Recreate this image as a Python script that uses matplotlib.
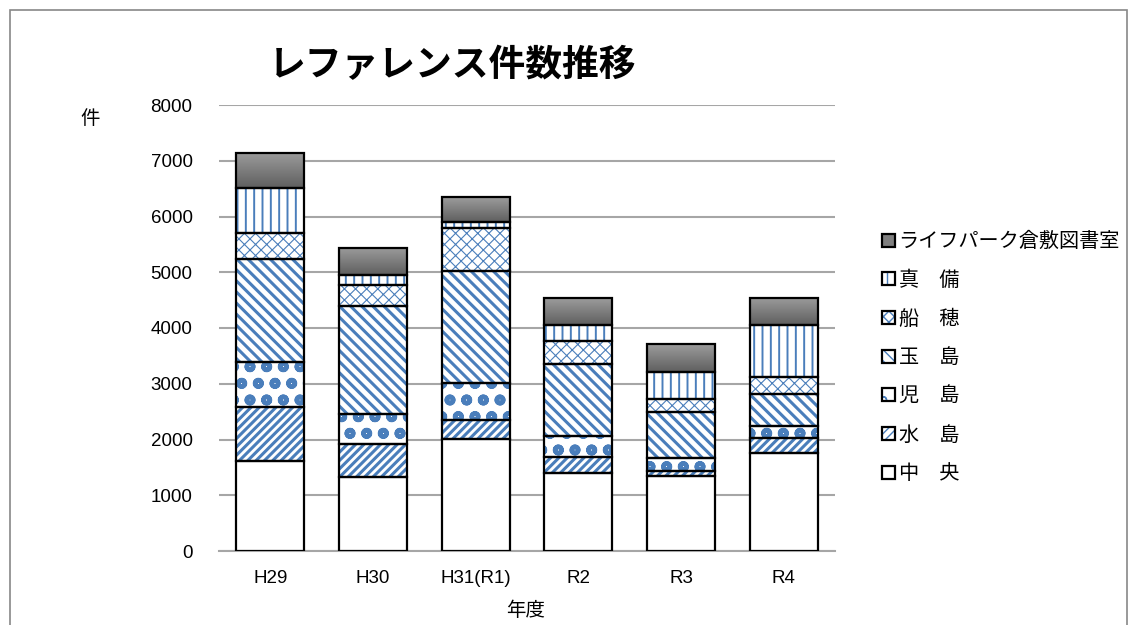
import matplotlib
matplotlib.use("Agg")
import matplotlib.pyplot as plt
import numpy as np
from matplotlib.patches import Patch, Rectangle
from matplotlib.legend_handler import HandlerTuple
from matplotlib.colors import LinearSegmentedColormap

years = ["H29", "H30", "H31(R1)", "R2", "R3", "R4"]
series_names = ["中\u3000央", "水\u3000島", "児\u3000島", "玉\u3000島", "船\u3000穂", "真\u3000備", "ライフパーク倉敷図書室"]
chuo = [1620, 1322, 2004, 1405, 1345, 1752]
mizushima = [969, 592, 346, 287, 90, 270]
kojima = [795, 538, 669, 371, 239, 220]
tamashima = [1854, 1948, 2009, 1297, 813, 574]
funao = [472, 371, 760, 412, 245, 311]
mabi = [807, 180, 119, 282, 473, 927]
lifepark = [628, 490, 437, 479, 502, 490]
yticks = [0, 1000, 2000, 3000, 4000, 5000, 6000, 7000, 8000]

series = [chuo, mizushima, kojima, tamashima, funao, mabi, lifepark]
hatches = [None, "////", "o", "\\\\\\", "xxx", "||", None]
hatch_lw = [1, 2.2, 3.2, 2.2, 0.8, 1.4, 1]
faces = ["white", "white", "white", "white", "white", "white", "#7f7f7f"]
blue = "#4a7ebb"
gray_cmap = LinearSegmentedColormap.from_list("g", ["#5f5f5f", "#9c9c9c"])

plt.rcParams["font.family"] = ["Liberation Sans", "Noto Sans CJK JP"]

fig = plt.figure(figsize=(11.3, 6.25), dpi=100)
ax = fig.add_axes([219/1130, 1-551/625, 616/1130, 446/625])

x = np.arange(len(years))
width = 0.66
bottom = np.zeros(len(years))
handles = []
grad = np.linspace(0, 1, 100).reshape(-1, 1)
for i, (vals, h, fc, name) in enumerate(zip(series, hatches, faces, series_names)):
    vals = np.array(vals, dtype=float)
    with plt.rc_context({"hatch.linewidth": hatch_lw[i]}):
        bc = ax.bar(x, vals, width, bottom=bottom, color=fc, edgecolor=blue if h else fc,
                    hatch=h, linewidth=0, zorder=2)
        p1 = Patch(facecolor=fc, edgecolor=blue if h else fc, hatch=h, linewidth=0)
    if i == len(series) - 1:
        for r in bc.patches:
            x0, y0, w, hh = r.get_x(), r.get_y(), r.get_width(), r.get_height()
            im = ax.imshow(grad, cmap=gray_cmap, origin="lower", aspect="auto",
                           extent=[x0, x0 + w, y0, y0 + hh], zorder=2.5)
            im.set_clip_path(r)
    ax.bar(x, vals, width, bottom=bottom, fill=False, edgecolor="black",
           linewidth=1.6, zorder=3)
    bottom += vals
    p2 = Patch(fill=False, edgecolor="black", linewidth=1.6)
    handles.append((p1, p2))

ax.set_xlim(-0.5, len(years) - 0.5)
ax.set_ylim(0, 8000)
ax.set_yticks(yticks)
ax.set_xticks(x)
ax.set_xticklabels(years)
ax.tick_params(length=0, labelsize=13.5)
ax.tick_params(axis="y", pad=19)
ax.tick_params(axis="x", pad=14)
ax.grid(axis="y", color="#a6a6a6", linewidth=1.5, zorder=0)
ax.set_axisbelow(True)
for s in ["left", "right", "top"]:
    ax.spines[s].set_visible(False)
ax.spines["bottom"].set_color("#a6a6a6")
ax.spines["bottom"].set_linewidth(1.5)

fig.text(453/1130, 1-66/625, "レファレンス件数推移", fontsize=26.5, fontweight="bold",
         ha="center", va="center", family=["Noto Sans CJK JP"])
fig.text(90/1130, 1-119/625, "件", fontsize=14, ha="center", va="center",
         family=["Noto Sans CJK JP"])
fig.text(526/1130, 1-611/625, "年度", fontsize=14, ha="center", va="center",
         family=["Noto Sans CJK JP"])

leg = fig.legend(handles[::-1], series_names[::-1],
                 handler_map={tuple: HandlerTuple(ndivide=1, pad=0)},
                 loc="upper left", bbox_to_anchor=(864/1130, 1-213/625), frameon=False,
                 handlelength=0.62, handleheight=0.62, handletextpad=0.2, labelspacing=0.88,
                 prop={"family": ["Noto Sans CJK JP"], "size": 14.5})

fig.patches.append(Rectangle((10/1130, -0.1), (1127-10)/1130, 1 - 10/625 + 0.1,
                             transform=fig.transFigure, fill=False, edgecolor="#888888",
                             linewidth=1.2))

fig.savefig("out.png", dpi=100)
